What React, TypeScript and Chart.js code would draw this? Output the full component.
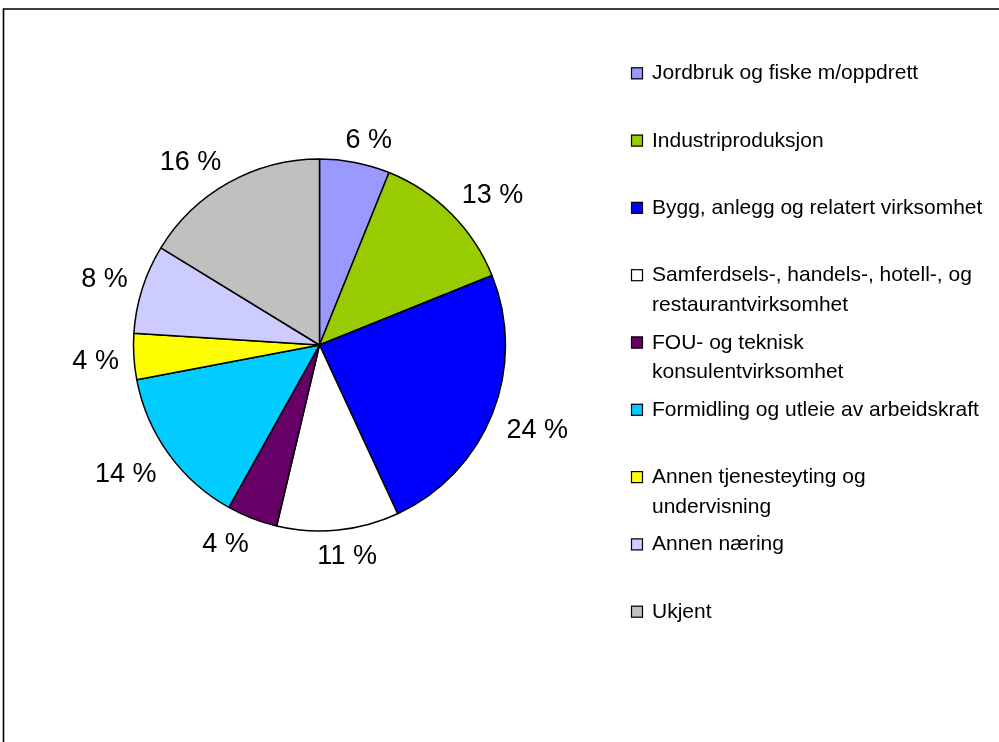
import React, { useEffect, useRef } from "react";
import { Chart, registerables } from "chart.js";

Chart.register(...registerables);

// ---- Data ----
const categories: (string | string[])[] = [
  "Jordbruk og fiske m/oppdrett",
  "Industriproduksjon",
  "Bygg, anlegg og relatert virksomhet",
  ["Samferdsels-, handels-, hotell-, og", "restaurantvirksomhet"],
  ["FOU- og teknisk", "konsulentvirksomhet"],
  "Formidling og utleie av arbeidskraft",
  ["Annen tjenesteyting og", "undervisning"],
  "Annen næring",
  "Ukjent",
];

const shares = [6.1, 12.8, 24.2, 10.6, 4.4, 13.9, 4.0, 7.75, 16.25];

const sliceColors = [
  "#9999FF",
  "#99CC00",
  "#0000FF",
  "#FFFFFF",
  "#660066",
  "#00CCFF",
  "#FFFF00",
  "#CCCCFF",
  "#C0C0C0",
];

const pctLabels = shares.map((v) => `${Math.round(v)} %`);

const FONT = "'Liberation Sans', Arial, Helvetica, sans-serif";

const framePlugin = {
  id: "frame",
  beforeDraw(chart: any) {
    const ctx = chart.ctx;
    ctx.save();
    ctx.fillStyle = "#FFFFFF";
    ctx.fillRect(0, 0, chart.width, chart.height);
    ctx.strokeStyle = "#000000";
    ctx.lineWidth = 1.6;
    ctx.beginPath();
    ctx.moveTo(3.5, chart.height + 2);
    ctx.lineTo(3.5, 9);
    ctx.lineTo(chart.width + 2, 9);
    ctx.stroke();
    ctx.restore();
  },
};

const pieLabelsPlugin = {
  id: "pieLabels",
  afterDatasetsDraw(chart: any) {
    const ctx = chart.ctx;
    const meta = chart.getDatasetMeta(0);
    ctx.save();
    ctx.font = `27px ${FONT}`;
    ctx.fillStyle = "#000000";
    ctx.textAlign = "center";
    ctx.textBaseline = "alphabetic";
    const capH = 19.5;
    const f = (t: number) => Math.sign(t) * Math.min(1, Math.abs(t) * 2.5);
    meta.data.forEach((arc: any, i: number) => {
      const p = arc.getProps(["x", "y", "startAngle", "endAngle", "outerRadius"], true);
      const mid = (p.startAngle + p.endAngle) / 2;
      const c = Math.cos(mid);
      const s = Math.sin(mid);
      const text = pctLabels[i];
      const w = ctx.measureText(text).width;
      const r = p.outerRadius + 15;
      const ax = p.x + c * r;
      const ay = p.y + s * r;
      const cx = ax + (f(c) * w) / 2;
      const cy = ay + (f(s) * capH) / 2;
      ctx.fillText(text, cx, cy + capH / 2);
    });
    ctx.restore();
  },
};

const legendPlugin = {
  id: "customLegend",
  afterDraw(chart: any) {
    const ctx = chart.ctx;
    const labels = chart.data.labels as (string | string[])[];
    const colors = chart.data.datasets[0].backgroundColor as string[];
    const markerX = 631;
    const markerSize = 12;
    const textX = 652;
    const firstBaseline = 79.3;
    const step = 67.3;
    const lineGap = 29.5;
    ctx.save();
    ctx.font = `21px ${FONT}`;
    ctx.textAlign = "left";
    ctx.textBaseline = "alphabetic";
    labels.forEach((lab, i) => {
      const base = firstBaseline + i * step;
      ctx.fillStyle = colors[i];
      ctx.fillRect(markerX, base - markerSize, markerSize, markerSize);
      ctx.strokeStyle = "#000000";
      ctx.lineWidth = 1.2;
      ctx.strokeRect(markerX + 0.5, base - markerSize + 0.5, markerSize - 1, markerSize - 1);
      ctx.fillStyle = "#000000";
      const lines = Array.isArray(lab) ? lab : [lab];
      lines.forEach((ln, j) => {
        ctx.fillText(ln, textX, base + j * lineGap);
      });
    });
    ctx.restore();
  },
};

export default function App() {
  const canvasRef = useRef<HTMLCanvasElement | null>(null);

  useEffect(() => {
    if (!canvasRef.current) return;
    const chart = new Chart(canvasRef.current, {
      type: "pie",
      data: {
        labels: categories as any,
        datasets: [
          {
            data: shares,
            backgroundColor: sliceColors,
            borderColor: "#000000",
            borderWidth: 1.5,
          },
        ],
      },
      options: {
        animation: false,
        responsive: false,
        devicePixelRatio: 1,
        events: [],
        radius: 186,
        layout: {
          padding: { left: 133, right: 493, top: 159, bottom: 211 },
        },
        plugins: {
          legend: { display: false },
          tooltip: { enabled: false },
          title: { display: false },
        },
      } as any,
      plugins: [framePlugin, pieLabelsPlugin, legendPlugin],
    });
    return () => chart.destroy();
  }, []);

  return (
    <div
      style={{
        position: "fixed",
        left: 0,
        top: 0,
        width: 999,
        height: 742,
        background: "#FFFFFF",
        overflow: "hidden",
      }}
    >
      <canvas
        ref={canvasRef}
        width={999}
        height={742}
        style={{ display: "block", width: 999, height: 742 }}
      />
    </div>
  );
}
